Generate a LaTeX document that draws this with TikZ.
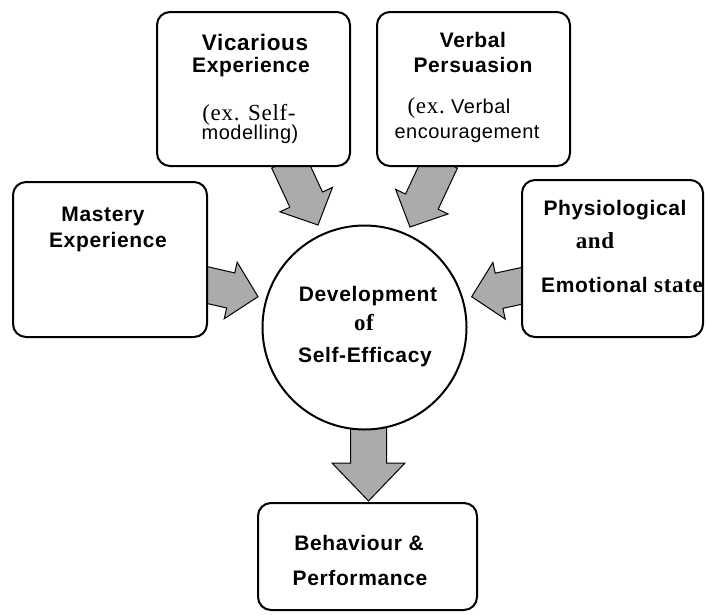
\documentclass[tikz,border=0pt]{standalone}
\usepackage{fontspec}
\setmainfont{Liberation Serif}
\setsansfont{Liberation Sans}
\newfontfamily\hsans[LetterSpace=3]{Liberation Sans}
\newfontfamily\rsans[LetterSpace=2.5]{Liberation Sans}
\newfontfamily\hserif[LetterSpace=3]{Liberation Serif}
\usetikzlibrary{calc}
\newcommand\fatarrow[5]{%
  \filldraw[fatstyle]
    ($(#1)!#3!90:(#2)$)
    -- ($(#2)!#5!(#1)!#3!-90:(#1)$)
    -- ($(#2)!#5!(#1)!#4!-90:(#1)$)
    -- (#2)
    -- ($(#2)!#5!(#1)!#4!90:(#1)$)
    -- ($(#2)!#5!(#1)!#3!90:(#1)$)
    -- ($(#1)!#3!-90:(#2)$)
    -- cycle;}
\begin{document}
\begin{tikzpicture}[x=1pt,y=-1pt,
  fatstyle/.style={draw=black, fill=black!33, line width=1pt, line join=miter},
  boxstyle/.style={draw=black, fill=white, line width=2pt, rounded corners=13pt, inner sep=0pt},
  circstyle/.style={draw=black, fill=white, line width=2pt, circle, inner sep=0pt},
  headtext/.style={font=\hsans\bfseries\fontsize{21}{24}\selectfont, anchor=base, inner sep=0pt},
  subtext/.style={font=\rsans\fontsize{20}{22}\selectfont, anchor=base, inner sep=0pt},
  serifbold/.style={font=\hserif\bfseries\fontsize{23}{26}\selectfont, anchor=base, inner sep=0pt},
  serifreg/.style={font=\hserif\fontsize{23}{26}\selectfont, anchor=base, inner sep=0pt}]
\useasboundingbox (0,0) rectangle (706,614);

% arrow end points
\coordinate (vs) at (288,160.5);   \coordinate (vt) at (318,225);
\coordinate (ps) at (441.1,160.5); \coordinate (pt) at (410,227);
\coordinate (ms) at (202.1,283.9); \coordinate (mt) at (258,296.7);
\coordinate (es) at (525.9,284.9); \coordinate (et) at (471.7,296.7);
\coordinate (ds) at (368.5,420);   \coordinate (dt) at (368.5,501);

\fatarrow{vs}{vt}{18pt}{29pt}{28pt}
\fatarrow{ps}{pt}{18pt}{29pt}{28pt}
\fatarrow{ms}{mt}{18pt}{29pt}{28pt}
\fatarrow{es}{et}{18pt}{29pt}{28pt}
\fatarrow{ds}{dt}{18pt}{36.5pt}{38pt}

% boxes
\node[boxstyle, minimum width=193pt, minimum height=154pt] (vic) at (253.5,89) {};
\node[boxstyle, minimum width=193pt, minimum height=154pt] (ver) at (473.5,89) {};
\node[boxstyle, minimum width=194pt, minimum height=155pt] (mas) at (110,259.5) {};
\node[boxstyle, minimum width=181pt, minimum height=157pt] (phy) at (612.5,258.5) {};
\node[boxstyle, minimum width=219pt, minimum height=107pt] (beh) at (367.5,556.5) {};
\node[circstyle, minimum size=204pt] (dev) at (364.5,327.5) {};

% texts
\node[headtext, font=\hsans\bfseries\fontsize{22.5}{25}\selectfont] (vic1) at (255,50) {Vicarious};
\node[headtext] (vic2) at (251,72) {Experience};
\node[serifreg] (vic3) at (249,120) {(ex. Self-};
\node[subtext] (vic4) at (250,139) {modelling)};

\node[headtext] (ver1) at (473,47) {Verbal};
\node[headtext] (ver2) at (473,72) {Persuasion};
\node[anchor=base, inner sep=0pt] (ver3) at (459,113) {{\hserif\fontsize{23}{26}\selectfont (ex.\ }{\rsans\fontsize{20}{22}\selectfont Verbal}};
\node[subtext] (ver4) at (467,138) {encouragement};

\node[headtext] (mas1) at (103,221) {Mastery};
\node[headtext] (mas2) at (108,247) {Experience};

\node[headtext] (phy1) at (615,215) {Physiological};
\node[serifbold] (phy2) at (595,248) {and};
\node[anchor=base, inner sep=0pt] (phy3) at (622,292) {{\hsans\bfseries\fontsize{21}{24}\selectfont Emotional\ }{\hserif\bfseries\fontsize{23}{26}\selectfont state}};

\node[headtext] (dev1) at (368,301) {Development};
\node[serifbold] (dev2) at (364,330) {of};
\node[headtext] (dev3) at (365,362) {Self-Efficacy};

\node[headtext] (beh1) at (359,550) {Behaviour \&};
\node[headtext] (beh2) at (360,585) {Performance};
\end{tikzpicture}
\end{document}
